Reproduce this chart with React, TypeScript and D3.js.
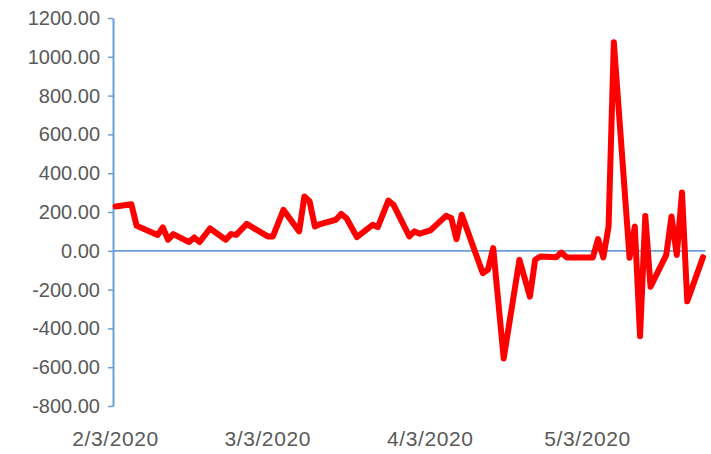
import React, { useEffect, useRef } from 'react'
import * as d3 from 'd3'

const dates = [
  '2020-02-03', '2020-02-06', '2020-02-07', '2020-02-11', '2020-02-12', '2020-02-13', '2020-02-14',
  '2020-02-17', '2020-02-18', '2020-02-19', '2020-02-21', '2020-02-24', '2020-02-25', '2020-02-26',
  '2020-02-28', '2020-03-03', '2020-03-04', '2020-03-06', '2020-03-09', '2020-03-10', '2020-03-11',
  '2020-03-12', '2020-03-13', '2020-03-16', '2020-03-17', '2020-03-18', '2020-03-20', '2020-03-23',
  '2020-03-24', '2020-03-26', '2020-03-27', '2020-03-30', '2020-03-31', '2020-04-01', '2020-04-03',
  '2020-04-06', '2020-04-07', '2020-04-08', '2020-04-09', '2020-04-13', '2020-04-14', '2020-04-15',
  '2020-04-17', '2020-04-20', '2020-04-22', '2020-04-23', '2020-04-24', '2020-04-27', '2020-04-28',
  '2020-04-29', '2020-05-04', '2020-05-05', '2020-05-06', '2020-05-07', '2020-05-08', '2020-05-11',
  '2020-05-12', '2020-05-13', '2020-05-14', '2020-05-15', '2020-05-18', '2020-05-19', '2020-05-20',
  '2020-05-21', '2020-05-22', '2020-05-25',
]

const values = [
  228, 240, 129, 82, 120, 57, 86,
  45, 69, 45, 115, 57, 86, 82,
  139, 74, 74, 211, 100, 280, 254,
  125, 138, 160, 190, 169, 71, 134,
  122, 259, 237, 74, 100, 88, 105,
  180, 169, 60, 186, -115, -98, 14,
  -555, -46, -236, -46, -29, -33, -9,
  -34, -34, 60, -34, 125, 1075, -36,
  125, -440, 180, -185, -21, 177, -21,
  300, -260, -33,
]

const yTicks = [-800, -600, -400, -200, 0, 200, 400, 600, 800, 1000, 1200]
const xTickLabels = ['2020-02-03', '2020-03-03', '2020-04-03', '2020-05-03']

const App = () => {
  const ref = useRef<SVGSVGElement>(null)

  useEffect(() => {
    const svg = d3.select(ref.current)
    svg.selectAll('*').remove()

    const parse = d3.utcParse('%Y-%m-%d')
    const data = dates.map((d, i) => ({ date: parse(d) as Date, value: values[i] }))
    const halfDay = 12 * 3600 * 1000
    const first = data[0].date
    const last = data[data.length - 1].date

    const xScale = d3
      .scaleUtc()
      .domain([new Date(first.getTime() - halfDay), new Date(last.getTime() + halfDay)])
      .range([113, 705.6])

    const yScale = d3.scaleLinear().domain([-800, 1200]).range([406, 18])

    const axisColor = '#6A9FD6'
    const textColor = '#595959'
    const font = '"Liberation Sans", Arial, sans-serif'

    // y axis
    const yAxis = d3
      .axisLeft(yScale)
      .tickValues(yTicks)
      .tickFormat(d => (+d).toFixed(2))
      .tickSize(5)
      .tickSizeOuter(0)
      .tickPadding(8)
    const gy = svg.append('g').attr('transform', 'translate(113,0)').call(yAxis)
    gy.select('.domain').attr('stroke', axisColor).attr('stroke-width', 2)
    gy.selectAll('line').attr('stroke', axisColor).attr('stroke-width', 1.5)
    gy.selectAll('text')
      .attr('fill', textColor)
      .style('font-family', font)
      .style('font-size', '20px')

    // zero line
    svg
      .append('line')
      .attr('x1', 113)
      .attr('x2', xScale.range()[1])
      .attr('y1', yScale(0))
      .attr('y2', yScale(0))
      .attr('stroke', axisColor)
      .attr('stroke-width', 1.8)

    // x labels
    const fmt = d3.utcFormat('%-m/%-d/%Y')
    svg
      .selectAll('text.xlab')
      .data(xTickLabels.map(d => parse(d) as Date))
      .enter()
      .append('text')
      .attr('class', 'xlab')
      .attr('x', d => xScale(d))
      .attr('y', 446)
      .attr('text-anchor', 'middle')
      .attr('fill', textColor)
      .style('font-family', font)
      .style('font-size', '21px')
      .style('letter-spacing', '0.6px')
      .text(d => fmt(d))

    // red line
    const line = d3
      .line<{ date: Date; value: number }>()
      .x(d => xScale(d.date))
      .y(d => yScale(d.value))
    svg
      .append('path')
      .datum(data)
      .attr('d', line)
      .attr('fill', 'none')
      .attr('stroke', '#FF0000')
      .attr('stroke-width', 6)
      .attr('stroke-linejoin', 'round')
      .attr('stroke-linecap', 'round')
  }, [])

  return (
    <svg
      ref={ref}
      width={711}
      height={454}
      style={{ position: 'absolute', left: 0, top: 0, background: '#fff' }}
    />
  )
}

export default App
